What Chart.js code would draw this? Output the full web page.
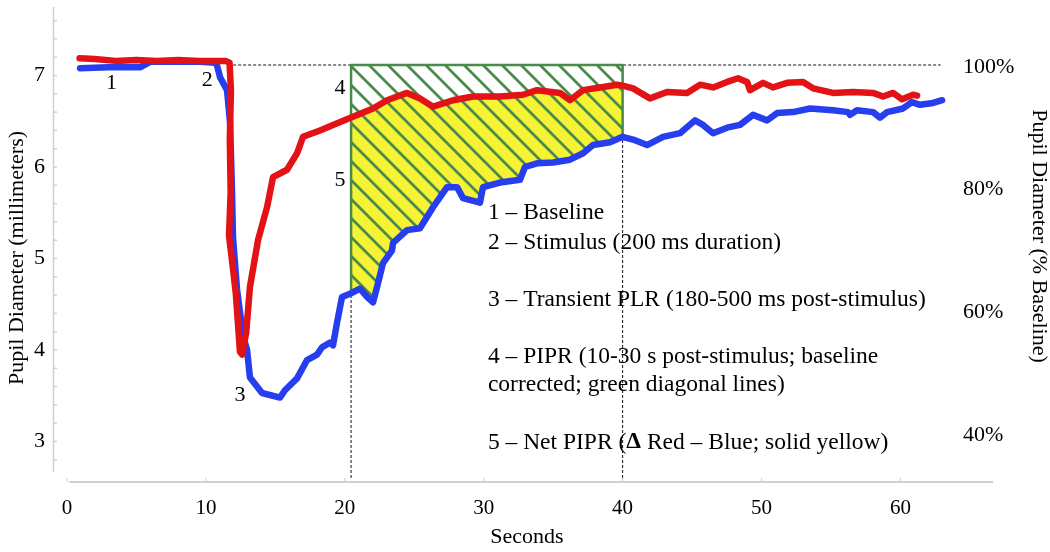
<!DOCTYPE html>
<html>
<head>
<meta charset="utf-8">
<script src="https://cdn.jsdelivr.net/npm/chart.js@4.4.1/dist/chart.umd.min.js"></script>
<style>
  html, body { margin: 0; padding: 0; background: #fff; }
</style>
</head>
<body>
<canvas id="pupila" width="1050" height="552"></canvas>
<script>
// Eixos e marcações
const xTicks = [0, 10, 20, 30, 40, 50, 60];
const yTicks = [3, 4, 5, 6, 7];
const pctTicks = [40, 60, 80, 100];
const xAxisEnd = 66.67;

// Linha de base e janela do PIPR (segundos)
const baseline = 7.115;
const winStart = 20.45;
const winEnd = 40;
const stimStart = 11.6;
const baseEnd = 62.9;
const floorV = 2.6;

// Curva vermelha (tempo, diâmetro em mm)
const redT = [0.9, 2.0, 3.5, 5.0, 6.5, 8.0, 9.5, 10.8, 11.4, 11.7, 11.8, 11.72, 11.78, 11.66, 11.9, 12.15, 12.45, 12.6,
  12.9, 13.17, 13.75, 14.4, 14.83, 15.84, 16.56, 16.99, 18.21, 19.15, 20.45, 22.03, 23.04, 24.48, 25.41, 26.35,
  27.79, 29.23, 31.17, 32.83, 33.84, 35.49, 36.21, 37.15, 38.37, 39.6, 40.0, 40.75, 41.97, 43.2, 44.64, 45.57,
  46.51, 47.52, 48.31, 48.96, 49.17, 50.11, 50.83, 51.84, 52.99, 53.71, 55.15, 56.59, 58.03, 58.75, 59.47, 60.12,
  60.91, 61.2];
const redV = [7.19, 7.18, 7.16, 7.17, 7.16, 7.17, 7.16, 7.16, 7.16, 7.14, 6.84, 6.30, 5.72, 5.25, 4.95, 4.62, 3.98, 3.95,
  4.19, 4.69, 5.20, 5.56, 5.89, 5.97, 6.15, 6.33, 6.40, 6.46, 6.54, 6.64, 6.73, 6.81, 6.75, 6.66,
  6.73, 6.77, 6.77, 6.79, 6.84, 6.81, 6.73, 6.84, 6.87, 6.90, 6.89, 6.86, 6.75, 6.82, 6.81, 6.90,
  6.87, 6.93, 6.97, 6.93, 6.84, 6.92, 6.87, 6.92, 6.93, 6.86, 6.81, 6.82, 6.81, 6.77, 6.81, 6.74,
  6.79, 6.78];

// Curva azul (tempo, diâmetro em mm)
const blueT = [0.94, 3.0, 5.26, 5.98, 8.0, 9.58, 10.66, 10.8, 11.02, 11.52, 11.74, 11.88, 11.95, 12.24, 12.67, 12.96,
  13.17, 14.04, 15.33, 15.69, 16.56, 17.28, 18.0, 18.36, 18.93, 19.15, 19.44, 19.8, 20.45, 21.09, 21.6, 22.03,
  22.39, 22.75, 23.4, 23.47, 24.48, 25.41, 26.35, 27.36, 28.08, 28.51, 29.73, 29.95, 31.17, 32.61, 32.97, 33.84,
  34.99, 36.21, 37.15, 37.87, 39.09, 40.0, 40.75, 41.76, 42.91, 44.13, 45.21, 45.79, 46.51, 47.52, 48.45, 49.39,
  50.4, 51.12, 52.27, 53.49, 55.15, 56.23, 56.37, 56.87, 58.03, 58.53, 59.04, 60.19, 60.83, 61.41, 62.35, 63.0];
const blueV = [7.08, 7.09, 7.09, 7.15, 7.15, 7.15, 7.14, 7.11, 6.98, 6.84, 6.48, 5.72, 5.23, 4.66, 4.16, 4.00,
  3.70, 3.53, 3.48, 3.56, 3.69, 3.89, 3.95, 4.03, 4.08, 4.05, 4.30, 4.58, 4.62, 4.67, 4.58, 4.52,
  4.73, 4.95, 5.09, 5.17, 5.31, 5.33, 5.56, 5.78, 5.78, 5.66, 5.61, 5.78, 5.83, 5.86, 6.00, 6.04,
  6.05, 6.08, 6.15, 6.24, 6.27, 6.33, 6.30, 6.24, 6.33, 6.37, 6.51, 6.46, 6.37, 6.43, 6.46, 6.57,
  6.51, 6.59, 6.60, 6.64, 6.62, 6.60, 6.57, 6.62, 6.60, 6.54, 6.60, 6.64, 6.71, 6.68, 6.70, 6.73];

// Rótulos numerados e texto explicativo
const marcas = [
  { t: 3.2, v: 6.92, s: '1' },
  { t: 10.1, v: 6.95, s: '2' },
  { t: 12.45, v: 3.51, s: '3' },
  { t: 19.65, v: 6.86, s: '4' },
  { t: 19.65, v: 5.86, s: '5' }
];
const legendaT = 30.3;
const legendaTxt = ['1 – Baseline', '2 – Stimulus (200 ms duration)', '3 – Transient PLR (180-500 ms post-stimulus)',
  '4 – PIPR (10-30 s post-stimulus; baseline', 'corrected; green diagonal lines)'];
const legendaV = [5.50, 5.17, 4.55, 3.93, 3.62];
const ultimaV = 2.99;

// Títulos dos eixos
const tituloX = 'Seconds';
const tituloY = 'Pupil Diameter (millimeters)';
const tituloY2 = 'Pupil Diameter (% Baseline)';

const SERIF = '"Liberation Serif", "Times New Roman", serif';
Chart.defaults.font.family = SERIF;
Chart.defaults.color = '#000';

const RED = 'rgb(226, 18, 22)';
const BLUE = 'rgb(38, 62, 238)';
const GREEN = 'rgb(74, 138, 74)';
const YELLOW = 'rgb(246, 242, 52)';

const pts = (ts, vs) => ts.map((t, i) => ({ x: t, y: vs[i] }));
const naJanela = p => p.x >= winStart && p.x <= winEnd;

const redPts = pts(redT, redV);
const bluePts = pts(blueT, blueV);
const redWin = redPts.filter(naJanela);
const blueWin = bluePts.filter(naJanela);
const contorno = [{ x: winStart, y: baseline }, { x: winEnd, y: baseline }]
  .concat(blueWin.slice().reverse())
  .concat([{ x: winStart, y: baseline }]);

// Padrão de linhas diagonais verdes
function criarHachura() {
  const tile = document.createElement('canvas');
  tile.width = 19;
  tile.height = 19;
  const g = tile.getContext('2d');
  g.strokeStyle = GREEN;
  g.lineWidth = 2.8;
  g.beginPath();
  g.moveTo(-3, -3); g.lineTo(22, 22);
  g.moveTo(-3, 16); g.lineTo(3, 22);
  g.moveTo(16, -3); g.lineTo(22, 3);
  g.stroke();
  return g.createPattern(tile, 'repeat');
}

const linha = (data, cor, largura, extra) => Object.assign({
  data: data,
  borderColor: cor,
  borderWidth: largura,
  pointRadius: 0,
  tension: 0,
  fill: false,
  borderJoinStyle: 'round',
  borderCapStyle: 'round'
}, extra || {});

const tracejado = data => linha(data, '#111', 1, { order: 6, borderDash: [3, 2], borderCapStyle: 'butt' });

// Eixos, marcas menores e textos
const decoracao = {
  id: 'decoracao',
  afterDraw(chart) {
    const { ctx, chartArea, scales } = chart;
    const x = scales.x, y = scales.y;
    ctx.save();
    ctx.strokeStyle = '#d0d0d0';
    ctx.lineWidth = 1.5;
    ctx.beginPath();
    ctx.moveTo(chartArea.left + 0.5, chartArea.top);
    ctx.lineTo(chartArea.left + 0.5, chartArea.bottom - 10);
    ctx.stroke();
    for (let k = 26; k <= 76; k += 2) {
      const py = y.getPixelForValue(k / 10);
      if (py > chartArea.bottom - 10) continue;
      ctx.beginPath();
      ctx.moveTo(chartArea.left, py);
      ctx.lineTo(chartArea.left + 4, py);
      ctx.stroke();
    }
    ctx.lineWidth = 2;
    ctx.beginPath();
    ctx.moveTo(x.getPixelForValue(0.15), chartArea.bottom);
    ctx.lineTo(x.getPixelForValue(xAxisEnd), chartArea.bottom);
    ctx.stroke();
    ctx.lineWidth = 1;
    xTicks.forEach(t => {
      const px = x.getPixelForValue(t);
      ctx.beginPath();
      ctx.moveTo(px, chartArea.bottom - 4);
      ctx.lineTo(px, chartArea.bottom);
      ctx.stroke();
    });

    ctx.fillStyle = '#000';
    ctx.textBaseline = 'middle';
    ctx.textAlign = 'center';
    ctx.font = '22px ' + SERIF;
    marcas.forEach(m => ctx.fillText(m.s, x.getPixelForValue(m.t), y.getPixelForValue(m.v)));

    // títulos
    ctx.fillText(tituloX, 527, 537);
    ctx.save();
    ctx.translate(17, 258);
    ctx.rotate(-Math.PI / 2);
    ctx.fillText(tituloY, 0, 0);
    ctx.restore();
    ctx.save();
    ctx.translate(1039, 236);
    ctx.rotate(Math.PI / 2);
    ctx.fillText(tituloY2, 0, 0);
    ctx.restore();

    ctx.textAlign = 'left';
    ctx.font = '23.5px ' + SERIF;
    const lx = x.getPixelForValue(legendaT);
    legendaTxt.forEach((s, i) => ctx.fillText(s, lx, y.getPixelForValue(legendaV[i])));

    // última linha com o delta em negrito
    const ly = y.getPixelForValue(ultimaV);
    const partes = [['5 – Net PIPR (', '23.5px '], ['Δ', 'bold 23.5px '], [' Red – Blue; solid yellow)', '23.5px ']];
    let cx = lx;
    partes.forEach(([s, f]) => {
      ctx.font = f + SERIF;
      ctx.fillText(s, cx, ly);
      cx += ctx.measureText(s).width;
    });
    ctx.restore();
  }
};

const ctx = document.getElementById('pupila').getContext('2d');

new Chart(ctx, {
  type: 'line',
  data: {
    datasets: [
      linha(redPts, RED, 6.5, { order: 0 }),
      linha(bluePts, BLUE, 6.5, { order: 1 }),
      linha(contorno, GREEN, 2.5, { order: 2 }),
      linha([{ x: winStart, y: baseline }, { x: winEnd, y: baseline }], 'rgba(0,0,0,0)', 0,
        { order: 3, fill: 5, backgroundColor: criarHachura() }),
      linha(redWin, 'rgba(0,0,0,0)', 0, { order: 4, fill: 5, backgroundColor: YELLOW }),
      linha(blueWin, 'rgba(0,0,0,0)', 0, { order: 5 }),
      tracejado([{ x: stimStart, y: baseline }, { x: baseEnd, y: baseline }]),
      tracejado([{ x: winStart, y: baseline }, { x: winStart, y: floorV }]),
      tracejado([{ x: winEnd, y: baseline }, { x: winEnd, y: floorV }])
    ]
  },
  options: {
    responsive: false,
    animation: false,
    layout: { padding: { top: 7, left: 0, right: 0, bottom: 0 } },
    plugins: {
      legend: { display: false },
      tooltip: { enabled: false }
    },
    scales: {
      x: {
        type: 'linear',
        position: 'bottom',
        min: -1.01,
        max: 64.29,
        afterBuildTicks: s => { s.ticks = xTicks.map(v => ({ value: v })); },
        afterFit: s => { s.height = 70; s.paddingLeft = 0; s.paddingRight = 0; },
        grid: { display: false, drawTicks: false },
        border: { display: false },
        ticks: { font: { size: 21 }, padding: 14, maxRotation: 0 }
      },
      y: {
        type: 'linear',
        position: 'left',
        min: 2.557,
        max: 7.749,
        afterBuildTicks: s => { s.ticks = yTicks.map(v => ({ value: v })); },
        afterFit: s => { s.width = 53; s.paddingTop = 0; s.paddingBottom = 0; },
        grid: { display: false, drawTicks: false },
        border: { display: false },
        ticks: { font: { size: 22 }, padding: 8 }
      },
      y2: {
        type: 'linear',
        position: 'right',
        min: 32.33,
        max: 109.78,
        afterBuildTicks: s => { s.ticks = pctTicks.map(v => ({ value: v })); },
        afterFit: s => { s.width = 90; s.paddingTop = 0; s.paddingBottom = 0; },
        grid: { display: false, drawTicks: false },
        border: { display: false },
        ticks: { font: { size: 22 }, padding: 3, callback: v => v + '%' }
      }
    }
  },
  plugins: [decoracao]
});
</script>
</body>
</html>
